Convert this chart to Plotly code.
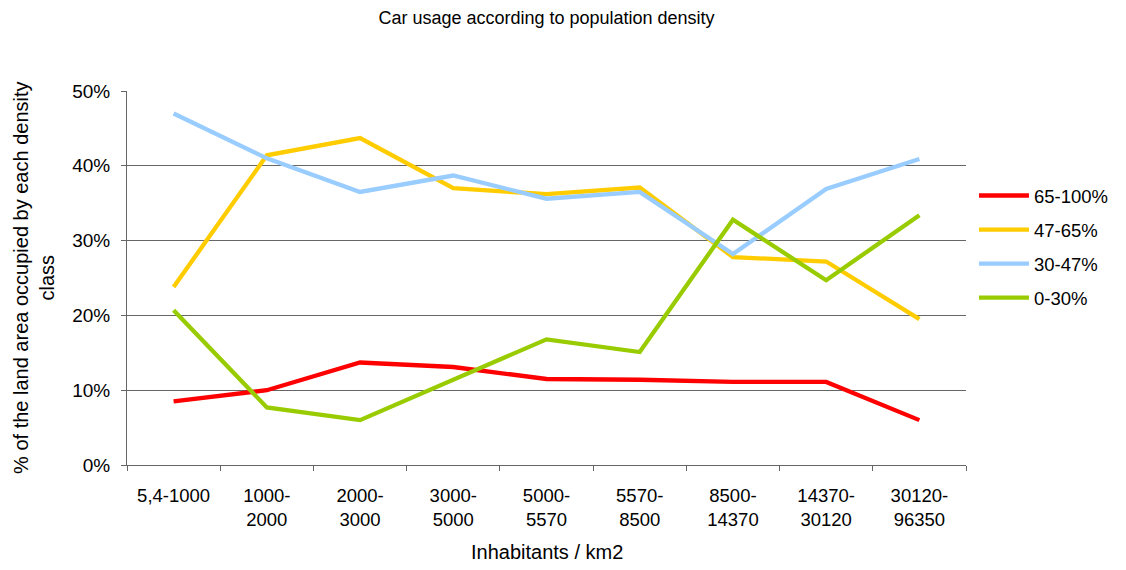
import plotly.graph_objects as go

# Density classes (inhabitants per km2)
categories = ["5,4-1000", "1000-<br>2000", "2000-<br>3000", "3000-<br>5000",
              "5000-<br>5570", "5570-<br>8500", "8500-<br>14370",
              "14370-<br>30120", "30120-<br>96350"]

# Share of land area occupied by each car-usage class
series_names = ["65-100%", "47-65%", "30-47%", "0-30%"]
car_65_100 = [0.085, 0.100, 0.137, 0.131, 0.115, 0.114, 0.111, 0.111, 0.060]
car_47_65 = [0.238, 0.414, 0.437, 0.370, 0.362, 0.371, 0.278, 0.272, 0.195]
car_30_47 = [0.470, 0.410, 0.365, 0.387, 0.356, 0.365, 0.282, 0.369, 0.409]
car_0_30 = [0.207, 0.077, 0.060, 0.114, 0.168, 0.151, 0.328, 0.247, 0.334]

series_values = [car_65_100, car_47_65, car_30_47, car_0_30]
series_colors = ["#FF0000", "#FFCC00", "#99CCFF", "#99CC00"]

FONT = "Liberation Sans, Arial, sans-serif"

fig = go.Figure()
for name, vals, color in zip(series_names, series_values, series_colors):
    fig.add_trace(go.Scatter(
        x=categories, y=vals, name=name, mode="lines",
        legendgroup=name,
        line=dict(color=color, width=4.3),
    ))

fig.update_layout(
    width=1126, height=570,
    margin=dict(l=127, r=156, t=91, b=105),
    paper_bgcolor="white", plot_bgcolor="white",
    font=dict(family=FONT, color="black", size=18),
    title=dict(text="Car usage according to population density",
               x=0.5, xref="paper", xanchor="center",
               y=1 - 18 / 570, yanchor="middle",
               font=dict(size=18, family=FONT, color="black")),
    showlegend=True,
    legend=dict(x=1.0095, xanchor="left", y=0.583, yanchor="middle",
                traceorder="grouped", tracegroupgap=7,
                font=dict(size=18.5, family=FONT), itemwidth=50,
                bgcolor="rgba(0,0,0,0)"),
    xaxis=dict(type="category", range=[-0.5, 8.5],
               showgrid=False, showline=True,
               linecolor="#666", linewidth=1,
               ticks="outside", tickson="boundaries", ticklen=5,
               tickcolor="#666", tickfont=dict(size=18.5),
               ticklabelstandoff=14, zeroline=False),
    yaxis=dict(range=[0, 0.5], dtick=0.1, tickformat=".0%",
               showgrid=True, gridcolor="#666", gridwidth=1,
               showline=True, linecolor="#666", linewidth=1,
               ticks="outside", ticklen=5, tickcolor="#666",
               tickfont=dict(size=19), ticklabelstandoff=7,
               zeroline=False),
    annotations=[
        dict(text="% of the land area occupied by each density<br>class",
             xref="paper", yref="paper", x=-(127 - 33.5) / 843, y=0.5,
             xanchor="center", yanchor="middle", textangle=-90,
             showarrow=False, font=dict(size=20, family=FONT)),
        dict(text="Inhabitants / km2",
             xref="paper", yref="paper", x=0.5, y=-(552 - 465) / 374,
             xanchor="center", yanchor="middle",
             showarrow=False, font=dict(size=20, family=FONT)),
    ],
)

fig.write_html("out.html")
